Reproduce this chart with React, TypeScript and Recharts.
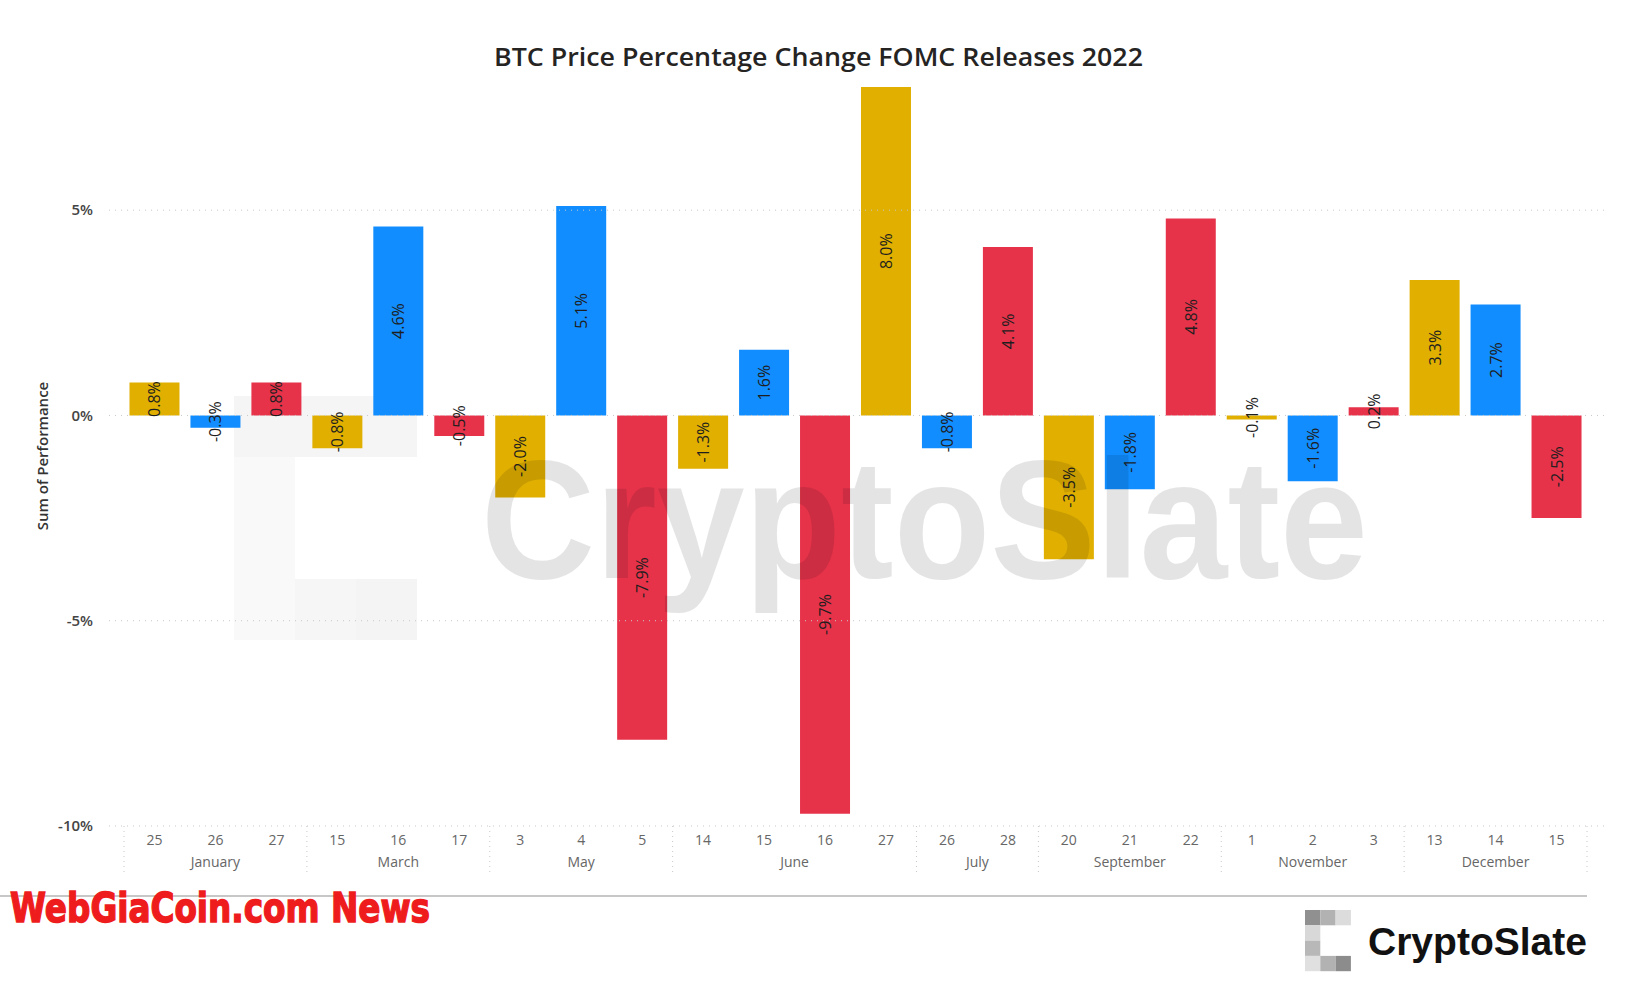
import React from 'react';
import { BarChart, Bar, XAxis, YAxis, ReferenceLine, Cell, LabelList } from 'recharts';

// valores (variacion % del BTC en dias FOMC 2022)
const days = ['25', '26', '27', '15', '16', '17', '3', '4', '5', '14', '15', '16', '27', '26', '28', '20', '21', '22', '1', '2', '3', '13', '14', '15'];
const months = ['January', 'March', 'May', 'June', 'July', 'September', 'November', 'December'];
const monthSizes = [3, 3, 3, 4, 2, 3, 3, 3];
const performance = [0.8, -0.3, 0.8, -0.8, 4.6, -0.5, -2.0, 5.1, -7.9, -1.3, 1.6, -9.7, 8.0, -0.8, 4.1, -3.5, -1.8, 4.8, -0.1, -1.6, 0.2, 3.3, 2.7, -2.5];
const yTicks = [-10, -5, 0, 5];

const COLORS = {
  gold: '#E0AF00',
  blue: '#118DFF',
  red: '#E6334A',
  grid: '#C8C8C8',
  text: '#252423',
};
const cycle = [COLORS.gold, COLORS.blue, COLORS.red];

const W = 1634;
const H = 992;
const PLOT_LEFT = 109;
const PLOT_RIGHT = 1605;
const PAD_L = 15;
const PAD_R = 18;
const STEP = (PLOT_RIGHT - PAD_R - PLOT_LEFT - PAD_L) / days.length;

const data = days.map((d, i) => ({ id: `b${i}`, day: d, value: performance[i] }));

// indice de inicio de cada grupo de mes
const groupStarts: number[] = [];
monthSizes.reduce((acc, n) => {
  groupStarts.push(acc);
  return acc + n;
}, 0);

const FONT = '"Open Sans", "Segoe UI", sans-serif';

function DayTick(props: any) {
  const { x, y, payload } = props;
  const i = payload.index;
  const g = groupStarts.indexOf(i);
  return (
    <g>
      <text x={x} y={y + 19} textAnchor="middle" fontSize={14} fill="#666" fontFamily={FONT}>
        {days[i]}
      </text>
      {g >= 0 && (
        <>
          <line x1={x - STEP / 2} x2={x - STEP / 2} y1={y} y2={y + 50} stroke={COLORS.grid} strokeDasharray="1 4" />
          <text x={x + ((monthSizes[g] - 1) * STEP) / 2} y={y + 41} textAnchor="middle" fontSize={14} fill="#666" fontFamily={FONT}>
            {months[g]}
          </text>
        </>
      )}
      {i === days.length - 1 && (
        <line x1={x + STEP / 2} x2={x + STEP / 2} y1={y} y2={y + 50} stroke={COLORS.grid} strokeDasharray="1 4" />
      )}
    </g>
  );
}

function BarLabel(props: any) {
  const vb = props.viewBox || props;
  const x = vb.x ?? props.x;
  const y = vb.y ?? props.y;
  const w = vb.width ?? props.width;
  const h = vb.height ?? props.height;
  const cx = x + w / 2;
  const cy = y + h / 2;
  return (
    <text
      x={cx}
      y={cy}
      transform={`rotate(-90, ${cx}, ${cy})`}
      textAnchor="middle"
      dominantBaseline="central"
      fontSize={16}
      fill="#1E1E1E"
      fontFamily={FONT}
    >
      {`${Number(props.value).toFixed(1)}%`}
    </text>
  );
}

// logo pixelado de CryptoSlate: [col, fila, color]
const logoCells: [number, number, string][] = [
  [0, 0, '#909090'], [1, 0, '#B2B2B2'], [2, 0, '#DCDCDC'],
  [0, 1, '#D8D8D8'],
  [0, 2, '#B8B8B8'],
  [0, 3, '#E0E0E0'], [1, 3, '#B2B2B2'], [2, 3, '#8C8C8C'],
];
const bgLogoCells: [number, number, number][] = [
  [0, 0, 0.04], [1, 0, 0.04], [2, 0, 0.04],
  [0, 1, 0.025],
  [0, 2, 0.025],
  [0, 3, 0.025], [1, 3, 0.035], [2, 3, 0.045],
];

export default function App() {
  return (
    <div style={{ position: 'absolute', top: 0, left: 0, width: W, height: H, background: '#fff', fontFamily: FONT }}>
      <svg width={W} height={H} style={{ position: 'absolute', top: 0, left: 0 }}>
        {bgLogoCells.map(([c, r, o], k) => (
          <rect key={k} x={234 + c * 61} y={396 + r * 61} width={61} height={61} fill="#000" opacity={o} />
        ))}
      </svg>
      <div style={{ position: 'absolute', top: 0, left: 0 }}>
        <BarChart width={W} height={H} data={data} margin={{ top: 87, right: W - PLOT_RIGHT, left: 0, bottom: 0 }} barCategoryGap="9%">
          {yTicks.map((t) => (
            <ReferenceLine key={t} y={t} stroke={COLORS.grid} strokeDasharray="1 5" />
          ))}
          <XAxis
            dataKey="id"
            interval={0}
            height={166}
            axisLine={false}
            tickLine={false}
            tickSize={0}
            tickMargin={0}
            padding={{ left: PAD_L, right: PAD_R }}
            tick={<DayTick />}
          />
          <YAxis
            width={PLOT_LEFT}
            domain={[-10, 8]}
            ticks={yTicks}
            allowDataOverflow
            axisLine={false}
            tickLine={false}
            tickSize={0}
            tickMargin={16}
            tickFormatter={(v: number) => `${v}%`}
            tick={{ fontSize: 15, fill: '#444', fontWeight: 600, fontFamily: FONT }}
          />
          <Bar dataKey="value" isAnimationActive={false}>
            {data.map((d, i) => (
              <Cell key={d.id} fill={cycle[i % 3]} />
            ))}
            <LabelList dataKey="value" content={<BarLabel />} />
          </Bar>
        </BarChart>
      </div>
      <svg width={W} height={H} style={{ position: 'absolute', top: 0, left: 0, pointerEvents: 'none' }}>
        <text
          x={494}
          y={66}
          textLength={649}
          lengthAdjust="spacingAndGlyphs"
          fontSize={26}
          fontWeight={600}
          fill={COLORS.text}
          fontFamily={FONT}
        >
          BTC Price Percentage Change FOMC Releases 2022
        </text>
        <text
          x={42}
          y={456}
          transform="rotate(-90, 42, 456)"
          textAnchor="middle"
          dominantBaseline="central"
          fontSize={15}
          fontWeight={600}
          fill="#333"
          fontFamily={FONT}
        >
          Sum of Performance
        </text>
        {/* marca de agua */}
        <text
          x={481}
          y={578}
          textLength={887}
          lengthAdjust="spacingAndGlyphs"
          fontSize={168}
          fontWeight={700}
          fill="#000"
          opacity={0.1}
          fontFamily='"Liberation Sans Narrow", "Liberation Sans", Arial, sans-serif'
        >
          CryptoSlate
        </text>
        <line x1={0} x2={1587} y1={896} y2={896} stroke="#B4B4B4" strokeWidth={1.5} />
        <text
          x={10}
          y={922}
          textLength={420}
          lengthAdjust="spacingAndGlyphs"
          fontSize={41}
          fontWeight={700}
          fill="#EE1C1C"
          stroke="#EE1C1C"
          strokeWidth={1.5}
          fontFamily='"DejaVu Sans", sans-serif'
        >
          WebGiaCoin.com News
        </text>
        {logoCells.map(([c, r, col], k) => (
          <rect key={k} x={1305 + c * 15.3} y={910 + r * 15.3} width={15.3} height={15.3} fill={col} />
        ))}
        <text
          x={1368}
          y={955}
          textLength={219}
          lengthAdjust="spacingAndGlyphs"
          fontSize={39}
          fontWeight={700}
          fill="#111"
          fontFamily='"Liberation Sans", Arial, sans-serif'
        >
          CryptoSlate
        </text>
      </svg>
    </div>
  );
}
